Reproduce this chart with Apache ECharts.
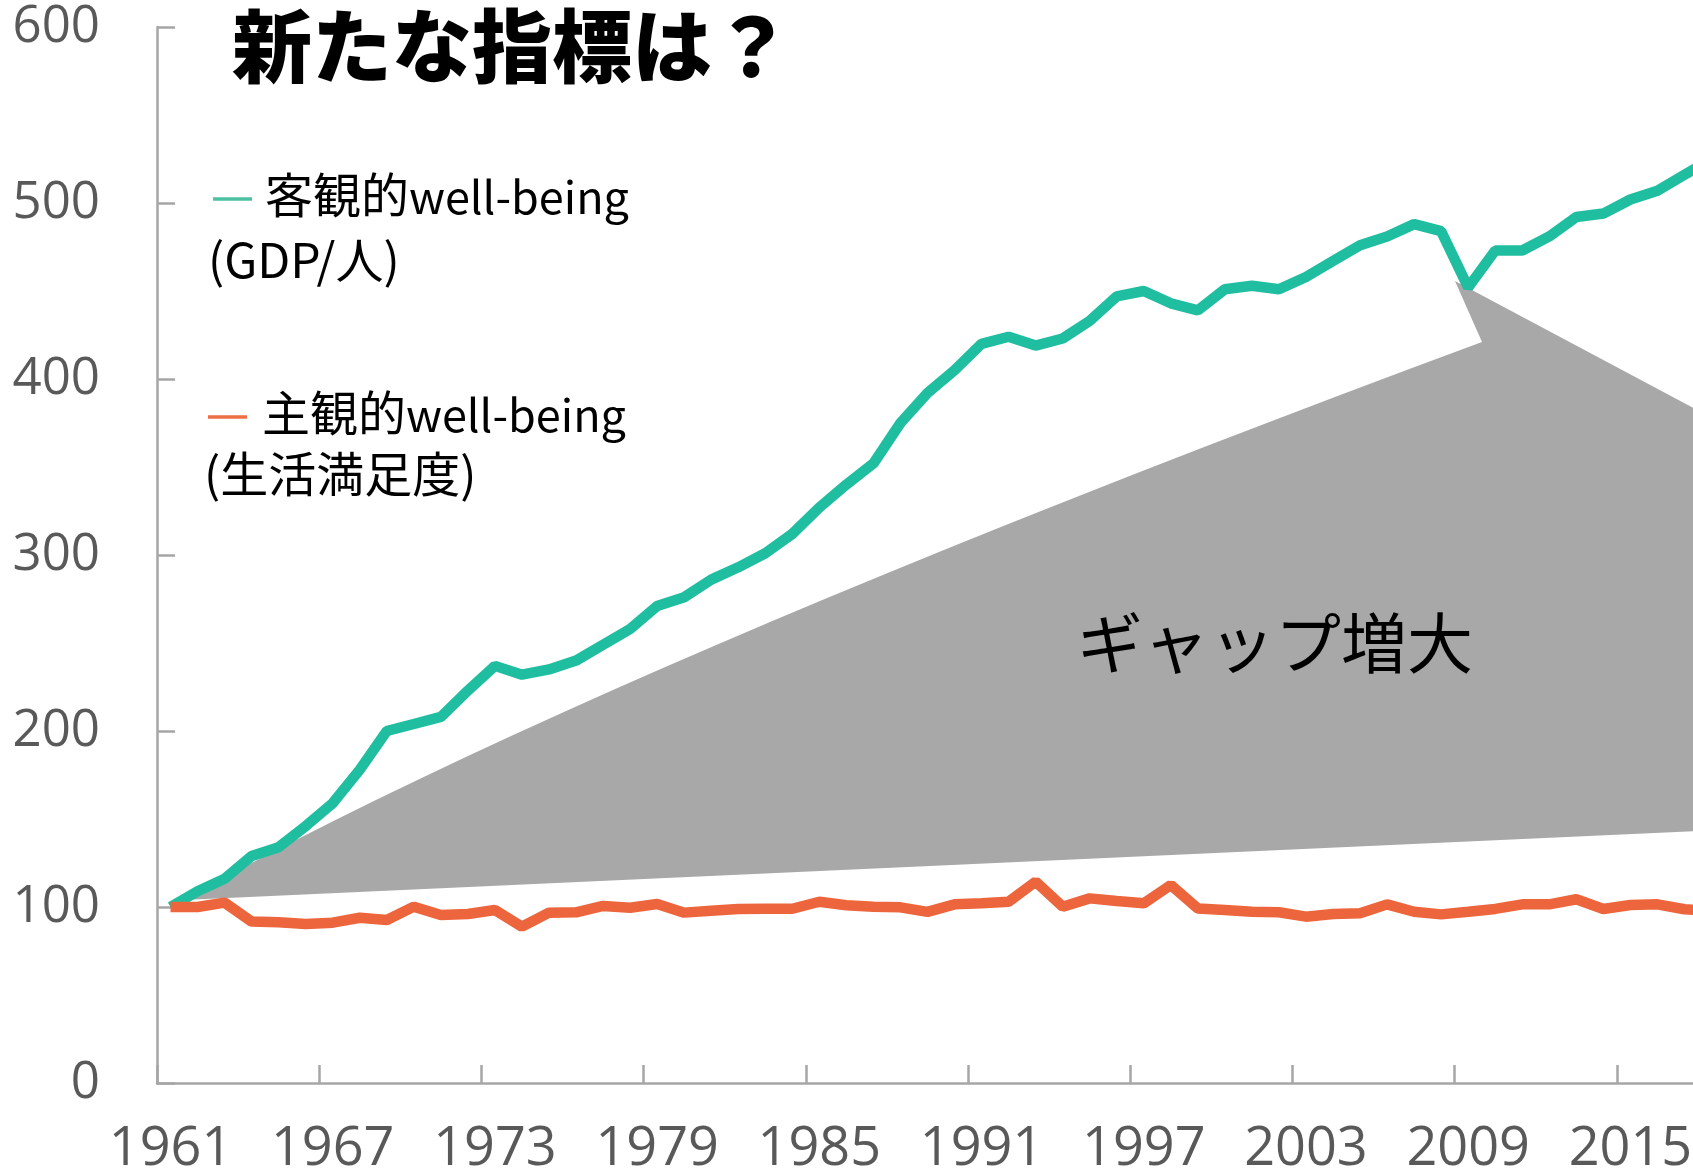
<!DOCTYPE html>
<html>
<head>
<meta charset="utf-8">
<title>新たな指標は？</title>
<script src="https://cdn.jsdelivr.net/npm/echarts@6/dist/echarts.min.js"></script>
<style>
  html, body { margin: 0; padding: 0; background: #fff; }
  #chart { width: 1693px; height: 1176px; }
</style>
</head>
<body>
<div id="chart"></div>
<script>
// 年（1961年 = 100 とした指数）
const years = [
  '1961', '1962', '1963', '1964', '1965', '1966', '1967', '1968', '1969', '1970',
  '1971', '1972', '1973', '1974', '1975', '1976', '1977', '1978', '1979', '1980',
  '1981', '1982', '1983', '1984', '1985', '1986', '1987', '1988', '1989', '1990',
  '1991', '1992', '1993', '1994', '1995', '1996', '1997', '1998', '1999', '2000',
  '2001', '2002', '2003', '2004', '2005', '2006', '2007', '2008', '2009', '2010',
  '2011', '2012', '2013', '2014', '2015', '2016', '2017', '2018'
];

// 客観的well-being (GDP/人)
const gdpPerCapita = [
  100, 109, 116, 129, 134, 146, 159, 178, 200, 204,
  208, 223, 237, 232, 235, 240, 249, 258, 271, 276,
  286, 293, 301, 312, 327, 340, 352, 375, 392, 405,
  420, 424, 419, 423, 433, 447, 450, 443, 439, 451,
  453, 451, 458, 467, 476, 481, 488, 484, 452, 473,
  473, 481, 492, 494, 502, 507, 516, 525
];

// 主観的well-being (生活満足度)
const lifeSatisfaction = [
  100, 100, 102.5, 91.7, 91.3, 90.3, 91.1, 93.9, 92.6, 100.2,
  95.5, 96, 98.3, 88.8, 96.8, 97, 100.6, 99.6, 101.7, 96.8,
  97.9, 98.9, 99, 99, 103, 101, 100.2, 99.8, 97.2, 101.5,
  102.1, 103, 114.4, 100.2, 104.9, 103.4, 102.1, 112.5, 99.2, 98.3,
  97.3, 97, 94.5, 96, 96.4, 101.5, 97.3, 95.8, 97.3, 98.9,
  101.5, 101.5, 104.4, 98.9, 101.1, 101.5, 98.7, 98
];

const jpFont = "'Noto Sans CJK JP', 'Noto Sans', sans-serif";
const numFont = "'Open Sans', 'Noto Sans', sans-serif";
const axisGray = '#a6a6a6';

// 吹き出し（ギャップ）の形。上辺は二次ベジェで少し膨らませる
function wedgePoints() {
  const p0 = [183, 900], c = [600, 669], p1 = [1482, 342];
  const pts = [];
  for (let i = 0; i <= 24; i++) {
    const t = i / 24, u = 1 - t;
    pts.push([
      u * u * p0[0] + 2 * u * t * c[0] + t * t * p1[0],
      u * u * p0[1] + 2 * u * t * c[1] + t * t * p1[1]
    ]);
  }
  pts.push([1455, 281], [1720, 422], [1720, 830]);
  return pts;
}

// 注記テキスト
function note(text, x, y, size) {
  return {
    type: 'text',
    z: 10,
    style: {
      text: text,
      x: x,
      y: y,
      verticalAlign: 'middle',
      fill: '#000',
      font: size + 'px ' + jpFont
    }
  };
}

const chart = echarts.init(document.getElementById('chart'));

const option = {
  animation: false,
  backgroundColor: '#fff',
  grid: {
    left: 157,
    top: 27,
    width: 1568,
    height: 1056,
    outerBoundsMode: 'none',
    containLabel: false
  },
  xAxis: {
    type: 'category',
    data: years,
    boundaryGap: true,
    axisLine: { show: true, lineStyle: { color: axisGray, width: 2.5 } },
    axisTick: {
      show: true,
      inside: true,
      length: 18,
      interval: 5,
      alignWithLabel: false,
      lineStyle: { color: axisGray, width: 2.5 }
    },
    axisLabel: {
      interval: 5,
      margin: 67,
      verticalAlign: 'middle',
      color: '#595959',
      fontFamily: numFont,
      fontSize: 54
    },
    splitLine: { show: false }
  },
  yAxis: {
    type: 'value',
    min: 0,
    max: 600,
    interval: 100,
    axisLine: { show: true, lineStyle: { color: axisGray, width: 2.5 } },
    axisTick: {
      show: true,
      inside: true,
      length: 18,
      lineStyle: { color: axisGray, width: 2.5 }
    },
    axisLabel: {
      margin: 57,
      color: '#595959',
      fontFamily: numFont,
      fontSize: 51
    },
    splitLine: { show: false }
  },
  series: [
    {
      name: '客観的well-being',
      type: 'line',
      data: gdpPerCapita,
      symbol: 'none',
      z: 5,
      lineStyle: { color: '#20bea0', width: 10.5 }
    },
    {
      name: '主観的well-being',
      type: 'line',
      data: lifeSatisfaction,
      symbol: 'none',
      z: 5,
      lineStyle: { color: '#ed653d', width: 10.5 }
    }
  ],
  graphic: [
    {
      type: 'polygon',
      z: 1,
      silent: true,
      shape: { points: wedgePoints() },
      style: { fill: '#a8a8a8' }
    },
    note('ギャップ増大', 1077, 643, 66),
    {
      type: 'text',
      z: 10,
      style: {
        text: '新たな指標は？',
        x: 232,
        y: 46,
        verticalAlign: 'middle',
        fill: '#000',
        font: '900 80px ' + jpFont
      }
    },
    // 凡例（注記）
    {
      type: 'line',
      z: 10,
      shape: { x1: 213, y1: 199, x2: 252, y2: 199 },
      style: { stroke: '#4cc0a0', lineWidth: 3.5 }
    },
    note('客観的', 265, 195, 48),
    note('well-being', 409, 196.5, 45),
    note('(GDP/人)', 208, 260, 48),
    {
      type: 'line',
      z: 10,
      shape: { x1: 208, y1: 417, x2: 247, y2: 417 },
      style: { stroke: '#ee6e45', lineWidth: 3.5 }
    },
    note('主観的', 262, 413, 48),
    note('well-being', 406, 414.5, 45),
    note('(生活満足度)', 204, 474, 48)
  ]
};

chart.setOption(option);
window.addEventListener('resize', () => chart.resize());
</script>
</body>
</html>
